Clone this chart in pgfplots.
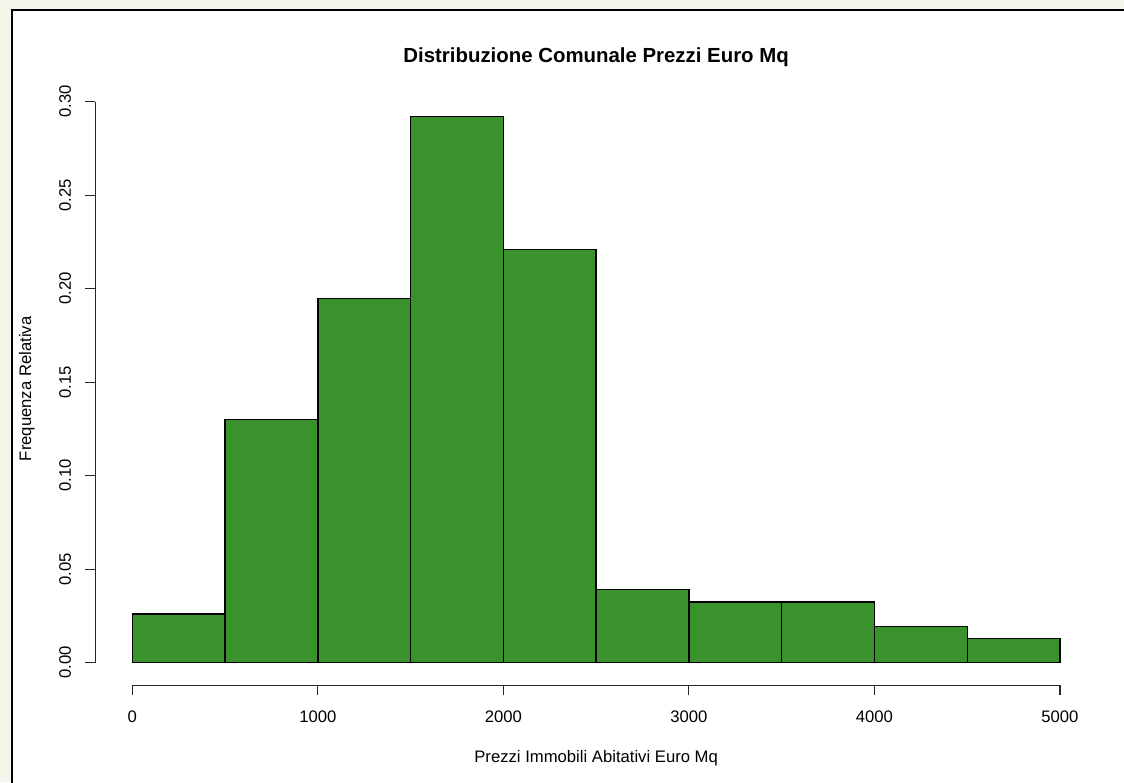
\documentclass[border=0pt]{standalone}
\usepackage{pgfplots}
\pgfplotsset{compat=1.18}
\usepackage{fontspec}
\setmainfont{Liberation Sans}
\definecolor{cream}{RGB}{245,245,236}
\definecolor{bargreen}{RGB}{58,146,44}
\begin{document}
\begin{tikzpicture}
\path[use as bounding box] (0,0) rectangle (843pt,586.5pt);
\clip (0,0) rectangle (843pt,586.5pt);
\fill[cream] (0,0) rectangle (843pt,586.5pt);
\draw[line width=1.5pt, fill=white] (9pt,-10pt) rectangle (860pt,579pt);
\begin{axis}[
  at={(71.4pt,72.7pt)}, anchor=south west,
  scale only axis, width=751.4pt, height=454.4pt,
  xmin=-200, xmax=5200, ymin=-0.012, ymax=0.312,
  clip=false,
  axis line style={draw=none},
  font=\fontsize{12.5pt}{15pt}\selectfont,
  xtick={0,1000,2000,3000,4000,5000},
  ytick={0,0.05,0.10,0.15,0.20,0.25,0.30},
  xtick pos=bottom, ytick pos=left,
  tick align=outside, major tick length=7.5pt,
  tick style={black!85, line width=0.8pt},
  /pgf/number format/assume math mode=true,
  x tick label style={/pgf/number format/1000 sep={}, anchor=base, yshift=-20.3pt},
  y tick label style={/pgf/number format/fixed, /pgf/number format/fixed zerofill, /pgf/number format/precision=2, xshift=-10.7pt, rotate=90, anchor=base},
  title={Distribuzione Comunale Prezzi Euro Mq},
  title style={at={([yshift=6.7pt]axis description cs:0.5,1)}, anchor=base, font=\bfseries\fontsize{15.3pt}{18pt}\selectfont},
  xlabel={Prezzi Immobili Abitativi Euro Mq},
  xlabel style={at={([yshift=-58.4pt]axis description cs:0.5,0)}, anchor=base},
  ylabel={Frequenza Relativa},
  ylabel style={at={([xshift=-48pt]axis description cs:0,0.4888)}, rotate=0, anchor=base},
]
\addplot[ybar interval, fill=bargreen, draw=black, line width=1pt] coordinates {
(0,0.02597) (500,0.12987) (1000,0.19481) (1500,0.29221) (2000,0.22078)
(2500,0.03896) (3000,0.03247) (3500,0.03247) (4000,0.01948) (4500,0.01299)
(5000,0.01299)};
\draw[line width=0.8pt, black!85] (axis cs:0,-0.012) -- (axis cs:5000,-0.012);
\draw[line width=0.8pt, black!85] (axis cs:-200,0) -- (axis cs:-200,0.30);
\end{axis}
\end{tikzpicture}
\end{document}
